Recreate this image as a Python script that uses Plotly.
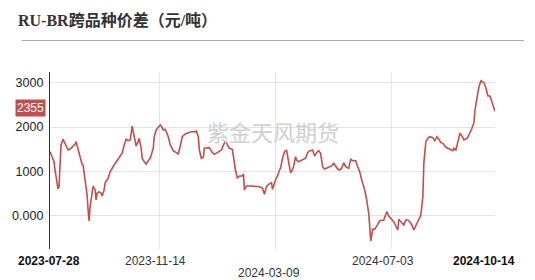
import plotly.graph_objects as go

dates = [
 "2023-07-28","2023-07-30","2023-08-01","2023-08-02","2023-08-04","2023-08-05","2023-08-06","2023-08-07",
 "2023-08-08","2023-08-10","2023-08-12","2023-08-15","2023-08-18","2023-08-22","2023-08-23","2023-08-25",
 "2023-08-27","2023-08-29","2023-08-30","2023-09-01","2023-09-03","2023-09-04","2023-09-05","2023-09-06",
 "2023-09-08","2023-09-09","2023-09-11","2023-09-12","2023-09-13","2023-09-15","2023-09-17","2023-09-18",
 "2023-09-20","2023-09-21","2023-09-24","2023-09-26","2023-09-30","2023-10-03","2023-10-06","2023-10-08",
 "2023-10-10","2023-10-12","2023-10-14","2023-10-16","2023-10-17","2023-10-18","2023-10-19","2023-10-21",
 "2023-10-22","2023-10-24","2023-10-25","2023-10-27","2023-10-28","2023-10-30","2023-11-01","2023-11-03",
 "2023-11-05","2023-11-07","2023-11-08","2023-11-09","2023-11-11","2023-11-13","2023-11-15","2023-11-16",
 "2023-11-18","2023-11-20","2023-11-23","2023-11-25","2023-11-28","2023-12-01","2023-12-03","2023-12-05",
 "2023-12-07","2023-12-10","2023-12-13","2023-12-16","2023-12-19","2023-12-21","2023-12-23","2023-12-24",
 "2023-12-26","2023-12-28","2023-12-29","2024-01-01","2024-01-03","2024-01-06","2024-01-08","2024-01-11",
 "2024-01-13","2024-01-15","2024-01-17","2024-01-19","2024-01-21","2024-01-23","2024-01-26","2024-01-27",
 "2024-01-29","2024-01-31","2024-02-02","2024-02-05","2024-02-06","2024-02-07","2024-02-09","2024-02-14",
 "2024-02-18","2024-02-22","2024-02-25","2024-02-27","2024-02-29","2024-03-02","2024-03-05","2024-03-06",
 "2024-03-09","2024-03-11","2024-03-13","2024-03-14","2024-03-16","2024-03-18","2024-03-20","2024-03-22",
 "2024-03-24","2024-03-25","2024-03-27","2024-03-29","2024-03-30","2024-04-01","2024-04-04","2024-04-08",
 "2024-04-10","2024-04-12","2024-04-15","2024-04-17","2024-04-19","2024-04-21","2024-04-23","2024-04-25",
 "2024-04-27","2024-04-30","2024-05-04","2024-05-06","2024-05-08","2024-05-10","2024-05-12","2024-05-14",
 "2024-05-16","2024-05-18","2024-05-21","2024-05-23","2024-05-25","2024-05-28","2024-05-30","2024-06-01",
 "2024-06-03","2024-06-06","2024-06-08","2024-06-10","2024-06-11","2024-06-12","2024-06-14","2024-06-16",
 "2024-06-19","2024-06-21","2024-06-25","2024-06-28","2024-06-30","2024-07-03","2024-07-05","2024-07-07",
 "2024-07-09","2024-07-10","2024-07-13","2024-07-15","2024-07-17","2024-07-19","2024-07-21","2024-07-23",
 "2024-07-25","2024-07-27","2024-07-30","2024-08-01","2024-08-03","2024-08-04","2024-08-06","2024-08-08",
 "2024-08-10","2024-08-13","2024-08-15","2024-08-17","2024-08-19","2024-08-21","2024-08-23","2024-08-26",
 "2024-08-28","2024-08-31","2024-09-02","2024-09-03","2024-09-05","2024-09-07","2024-09-09","2024-09-11",
 "2024-09-13","2024-09-16","2024-09-18","2024-09-21","2024-09-23","2024-09-24","2024-09-26","2024-09-28",
 "2024-09-30","2024-10-03","2024-10-05","2024-10-07","2024-10-09","2024-10-11","2024-10-14",
]
spread = [
 1445,1348,1220,1034,659,607,659,1108,
 1596,1723,1633,1483,1521,1618,1670,1483,
 1333,1161,1146,809,472,135,-112,209,
 584,674,584,360,510,546,510,449,
 584,748,847,996,1146,1243,1319,1409,
 1596,1723,1692,1708,1858,2022,1894,1670,
 1573,1670,1746,1521,1297,1220,1168,1243,
 1297,1445,1521,1782,1933,1993,2045,2022,
 1933,1948,1782,1596,1468,1423,1393,1573,
 1782,1843,1872,1894,1894,1910,1782,1483,
 1297,1319,1521,1535,1535,1423,1386,1423,
 1445,1483,1596,1685,1596,1521,1498,1297,
 1034,847,899,899,944,584,674,674,
 659,659,622,488,659,712,748,600,
 809,899,1034,1071,1297,1445,1483,1220,
 973,996,1108,1333,1258,1220,1258,1297,
 1423,1461,1483,1348,1423,1468,1409,1108,
 1056,1085,1124,1184,1108,1056,1034,1071,
 1198,1108,1071,1274,1243,1243,1108,996,
 809,584,360,60,-240,-562,-299,-299,
 -187,-106,-90,97,0,-90,-128,-225,
 -315,-74,-150,-202,-90,-90,-128,-202,
 -315,-225,-90,22,434,1184,1670,1746,
 1782,1760,1685,1782,1723,1648,1633,1543,
 1521,1498,1468,1521,1483,1670,1858,1798,
 1708,1746,1820,1971,2097,2382,2645,2906,
 3040,2996,2870,2697,2697,2569,2355,
]

y_ticks = [0, 1000, 2000, 3000]
y_tick_text = ["0.000", "1000", "2000", "3000"]
grid_dates = ["2023-11-14", "2024-03-09", "2024-07-03"]
x_labels = ["2023-07-28", "2023-11-14", "2024-03-09", "2024-07-03", "2024-10-14"]
title_text = "RU-BR跨品种价差（元/吨）"
watermark = "紫金天风期货"
last_value = spread[-1]

LINE = "#c44e4e"

fig = go.Figure()
fig.add_trace(go.Scatter(x=dates, y=spread, mode="lines",
                         line=dict(color=LINE, width=1.6), hoverinfo="skip", showlegend=False))

fig.update_layout(
    width=535, height=280,
    margin=dict(l=39, r=40, t=72, b=31),
    paper_bgcolor="white", plot_bgcolor="white",
    font=dict(family="Liberation Sans, Arial, sans-serif", size=12, color="#333"),
    title=dict(text="<b>" + title_text + "</b>", xref="container", x=18/535, xanchor="left",
               y=1 - 20/280, yanchor="middle",
               font=dict(family="Liberation Serif, Noto Sans CJK SC, serif", size=16, color="#333")),
    xaxis=dict(type="date", range=[dates[0], dates[-1]], tickvals=grid_dates, showticklabels=False,
               showgrid=True, gridcolor="#e3e3e3", gridwidth=1, zeroline=False, showline=False,
               ticks=""),
    yaxis=dict(range=[-742, 3236], tickvals=y_ticks, ticktext=y_tick_text,
               showgrid=True, gridcolor="#e3e3e3", gridwidth=1, zeroline=False,
               showline=True, linecolor="#333", linewidth=1.2, ticks="",
               ticklabelstandoff=3,
               tickfont=dict(size=12.5, color="#222")),
)

# title underline
fig.add_shape(type="line", xref="paper", yref="paper",
              x0=(10-39)/456, x1=(525-39)/456, y0=1 + (72-40.5)/177, y1=1 + (72-40.5)/177,
              line=dict(color="#aaaaaa", width=1.2))

# x labels
shifts = [-1.5, -4, -7, -9, -11]
rows = [-12, -12, -24, -12, -12]
for i, lab in enumerate(x_labels):
    bold = i in (0, len(x_labels) - 1)
    fig.add_annotation(x=lab, xref="x", y=0, yref="paper", yanchor="middle",
                       text=("<b>%s</b>" % lab) if bold else lab, showarrow=False,
                       xshift=shifts[i], yshift=rows[i],
                       font=dict(size=12, color="#111" if bold else "#333"))

# watermark
fig.add_annotation(x=(267-39)/456, xref="paper", y=(249-131)/177, yref="paper",
                   text=watermark, showarrow=False,
                   font=dict(family="Noto Sans CJK SC", size=22, color="#d0d0d0"))

# last value label
fig.add_annotation(x=0, xref="paper", y=last_value, yref="y", xanchor="right",
                   xshift=-4, yshift=3, text=str(last_value), showarrow=False,
                   bgcolor=LINE, borderpad=1, font=dict(size=12, color="white"))

fig.write_html("out.html")
